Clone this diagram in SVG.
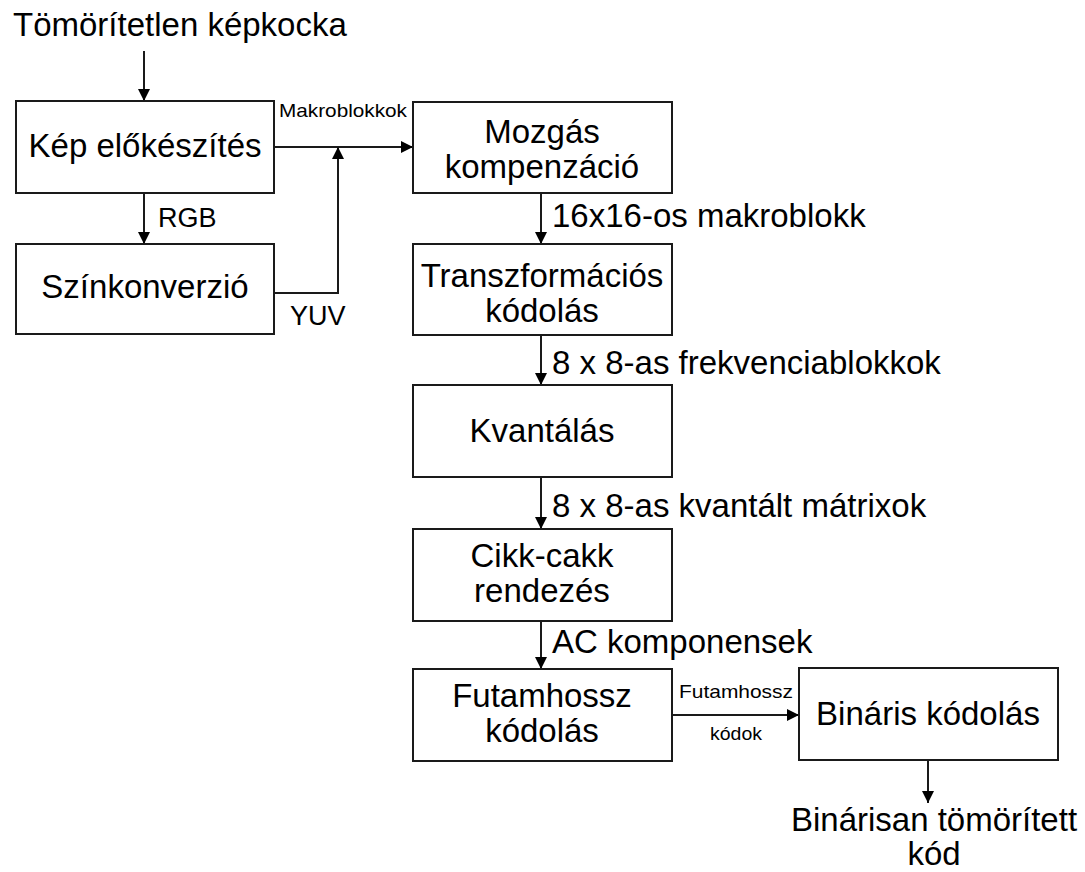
<svg xmlns="http://www.w3.org/2000/svg" width="1085" height="872" viewBox="0 0 1085 872">
<style>
.box{fill:#fff;stroke:#1a1a1a;stroke-width:2}
.t{font-family:"Liberation Sans",Arial,sans-serif;font-size:33px;fill:#000;text-anchor:middle}
.l{font-family:"Liberation Sans",Arial,sans-serif;font-size:33px;fill:#000}
.m{font-family:"Liberation Sans",Arial,sans-serif;font-size:27px;fill:#000}
.s{font-family:"Liberation Sans",Arial,sans-serif;font-size:19px;fill:#000}
.c{fill:none;stroke:#1a1a1a;stroke-width:2;marker-end:url(#ah)}
</style>
<defs>
<marker id="ah" markerUnits="userSpaceOnUse" markerWidth="12" markerHeight="12" refX="12" refY="6" orient="auto">
<path d="M0,0 L12,6 L0,12 z" fill="#000"/>
</marker>
</defs>
<rect width="1085" height="872" fill="#fff"/>
<g id="connectors">
<path class="c" d="M144,51 V101"/>
<path class="c" d="M144,193 V244"/>
<path class="c" d="M274,147 H413"/>
<path class="c" d="M274,293 H338 V147"/>
<path class="c" d="M541,193 V244"/>
<path class="c" d="M541,335 V385"/>
<path class="c" d="M541,477 V529"/>
<path class="c" d="M541,621 V669"/>
<path class="c" d="M672,715 H799"/>
<path class="c" d="M928,760 V803"/>
<text class="m" x="158" y="227">RGB</text>
<text class="m" x="290" y="325">YUV</text>
<text class="s" x="279" y="117" textLength="128" lengthAdjust="spacingAndGlyphs">Makroblokkok</text>
<text class="l" x="552" y="227">16x16-os makroblokk</text>
<text class="l" x="552" y="374">8 x 8-as frekvenciablokkok</text>
<text class="l" x="552" y="517">8 x 8-as kvantált mátrixok</text>
<text class="l" x="552" y="653">AC komponensek</text>
<text class="s" x="679" y="698" textLength="114" lengthAdjust="spacingAndGlyphs">Futamhossz</text>
<text class="s" x="710" y="740" textLength="52" lengthAdjust="spacingAndGlyphs">kódok</text>
</g>
<g id="input"><text class="l" x="13" y="36">Tömörítetlen képkocka</text></g>
<g id="kep"><rect class="box" x="16" y="101" width="258" height="92"/><text class="t" x="145" y="157">Kép előkészítés</text></g>
<g id="szin"><rect class="box" x="16" y="244" width="258" height="90"/><text class="t" x="145" y="298">Színkonverzió</text></g>
<g id="mozgas"><rect class="box" x="413" y="102" width="259" height="91"/><text class="t" x="542" y="143">Mozgás</text><text class="t" x="542" y="178">kompenzáció</text></g>
<g id="transz"><rect class="box" x="413" y="244" width="259" height="91"/><text class="t" x="542" y="287">Transzformációs</text><text class="t" x="542" y="322">kódolás</text></g>
<g id="kvant"><rect class="box" x="413" y="385" width="259" height="92"/><text class="t" x="542" y="442">Kvantálás</text></g>
<g id="cikk"><rect class="box" x="413" y="529" width="259" height="92"/><text class="t" x="542" y="567">Cikk-cakk</text><text class="t" x="542" y="602">rendezés</text></g>
<g id="futam"><rect class="box" x="413" y="669" width="259" height="92"/><text class="t" x="542" y="707">Futamhossz</text><text class="t" x="542" y="742">kódolás</text></g>
<g id="binaris"><rect class="box" x="799" y="668" width="259" height="92"/><text class="t" x="928" y="725">Bináris kódolás</text></g>
<g id="output"><text class="t" x="934" y="831">Binárisan tömörített</text><text class="t" x="934" y="865" font-size="32">kód</text></g>
</svg>
